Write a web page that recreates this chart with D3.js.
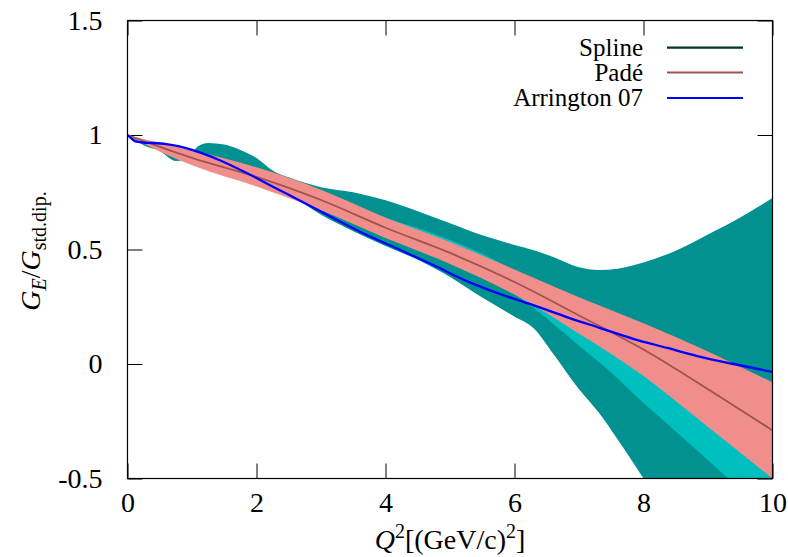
<!DOCTYPE html>
<html>
<head>
<meta charset="utf-8">
<script src="https://cdn.jsdelivr.net/npm/d3@7"></script>
<style>
  html, body { margin: 0; padding: 0; background: #fff; }
  svg { display: block; }
  text { font-family: "Liberation Serif", "DejaVu Serif", serif; fill: #000; }
</style>
</head>
<body>
<svg id="chart" width="788" height="557"></svg>
<script>
// ---------------- data ----------------
const xTicks = [0, 2, 4, 6, 8, 10];
const xTickLabels = ["0", "2", "4", "6", "8", "10"];
const yTicks = [-0.5, 0, 0.5, 1, 1.5];
const yTickLabels = ["-0.5", "0", "0.5", "1", "1.5"];

const legendNames = ["Spline", "Padé", "Arrington 07"];

// Spline band (teal)
const splineQ  = [0, 0.25, 0.5, 0.75, 1.0, 1.1, 1.25, 1.5, 1.75, 2.0, 2.25, 2.5, 3.0, 3.5, 4.0, 4.5, 5.0, 5.5, 6.0, 6.3, 6.6, 7.0, 7.3, 7.6, 8.0, 8.5, 9.0, 9.5, 10];
const splineHi = [1.0, 0.968, 0.955, 0.935, 0.93, 0.952, 0.965, 0.958, 0.935, 0.9, 0.845, 0.815, 0.772, 0.75, 0.715, 0.667, 0.615, 0.562, 0.52, 0.497, 0.467, 0.422, 0.41, 0.416, 0.443, 0.495, 0.566, 0.64, 0.725];
const splineLo = [1.0, 0.955, 0.93, 0.886, 0.895, 0.89, 0.88, 0.86, 0.83, 0.80, 0.77, 0.74, 0.652, 0.58, 0.515, 0.455, 0.38, 0.29, 0.207, 0.155, 0.045, -0.11, -0.21, -0.33, -0.5, -0.72, -0.95, -1.2, -1.45];

// Second (wider) band (light cyan)
const cyanQ  = [0, 0.5, 1, 2, 3, 4, 4.5, 5, 5.5, 6, 6.2, 6.6, 7, 7.33, 8, 8.5, 9, 9.31, 10];
const cyanHi = [1, 0.96, 0.927, 0.854, 0.756, 0.637, 0.594, 0.541, 0.481, 0.41, 0.385, 0.335, 0.287, 0.25, 0.173, 0.115, 0.05, 0.01, -0.085];
const cyanLo = [1, 0.932, 0.872, 0.779, 0.675, 0.554, 0.497, 0.441, 0.375, 0.307, 0.266, 0.175, 0.08, 0.004, -0.17, -0.295, -0.42, -0.5, -0.68];

// Padé fit: central curve and band
const padeQ  = [0, 0.5, 1, 2, 3, 4, 5, 6, 7, 8, 9, 10];
const padeC  = [1, 0.948, 0.90, 0.817, 0.716, 0.595, 0.485, 0.358, 0.212, 0.063, -0.11, -0.29];
const padeHi = [1, 0.965, 0.932, 0.859, 0.761, 0.64, 0.533, 0.413, 0.292, 0.178, 0.055, -0.08];
const padeLo = [1, 0.928, 0.868, 0.775, 0.671, 0.55, 0.437, 0.303, 0.132, -0.052, -0.275, -0.50];

// Arrington 07 parameterisation
const arrQ = [0, 0.06, 0.12, 0.25, 0.4, 0.6, 0.8, 1.0, 1.43, 1.85, 2.27, 2.67, 3.19, 3.71, 4.23, 4.74, 5.26, 5.78, 6.3, 6.81, 7.33, 7.84, 8.37, 8.9, 9.4, 10];
const arrG = [1.0, 0.985, 0.972, 0.967, 0.965, 0.96, 0.95, 0.935, 0.89, 0.834, 0.772, 0.714, 0.637, 0.563, 0.498, 0.432, 0.362, 0.305, 0.256, 0.205, 0.157, 0.11, 0.07, 0.03, 0.0, -0.035];

// ---------------- styles ----------------
const colTeal = "#009190";
const colCyan = "#00bfbf";
const colSalmon = "#f08e8c";
const colPadeLine = "#a0524f";
const colSplineLine = "#00332f";
const colBlue = "#0000ff";
const legendColors = [colSplineLine, colPadeLine, colBlue];

// ---------------- chart ----------------
const svg = d3.select("#chart");
const L = 127.5, R = 772.5, T = 20.5, B = 478.5;
const x = d3.scaleLinear().domain([0, 10]).range([L, R]);
const y = d3.scaleLinear().domain([-0.5, 1.5]).range([B, T]);

svg.append("defs").append("clipPath").attr("id", "plotclip")
  .append("rect").attr("x", L).attr("y", T).attr("width", R - L).attr("height", B - T);

// axes (ticks pointing inward, drawn beneath data)
const fontSize = 28;
function styleAxis(g) {
  g.select(".domain").remove();
  g.selectAll(".tick line").attr("stroke", "#000").attr("stroke-width", 1);
  g.selectAll("text").attr("font-family", "Liberation Serif, DejaVu Serif, serif").attr("font-size", fontSize).attr("fill", "#000");
  g.attr("font-family", null).attr("font-size", null);
}
svg.append("g").attr("transform", `translate(0,${B})`)
  .call(d3.axisBottom(x).tickValues(xTicks).tickFormat((d, i) => xTickLabels[i]).tickSizeInner(-15).tickSizeOuter(0).tickPadding(14))
  .call(styleAxis);
svg.append("g").attr("transform", `translate(0,${T})`)
  .call(d3.axisTop(x).tickValues(xTicks).tickFormat("").tickSizeInner(-15).tickSizeOuter(0))
  .call(styleAxis);
svg.append("g").attr("transform", `translate(${L},0)`)
  .call(d3.axisLeft(y).tickValues(yTicks).tickFormat((d, i) => yTickLabels[i]).tickSizeInner(-15).tickSizeOuter(0).tickPadding(25))
  .call(styleAxis);
svg.append("g").attr("transform", `translate(${R},0)`)
  .call(d3.axisRight(y).tickValues(yTicks).tickFormat("").tickSizeInner(-15).tickSizeOuter(0))
  .call(styleAxis);

const plot = svg.append("g").attr("clip-path", "url(#plotclip)");

function band(qs, lo, hi) {
  return d3.area().curve(d3.curveMonotoneX)
    .x((d, i) => x(qs[i])).y0((d, i) => y(lo[i])).y1((d, i) => y(hi[i]))(qs);
}
function curve(qs, vs) {
  return d3.line().curve(d3.curveMonotoneX)
    .x((d, i) => x(qs[i])).y((d, i) => y(vs[i]))(qs);
}

plot.append("path").attr("d", band(splineQ, splineLo, splineHi)).attr("fill", colTeal);
plot.append("path").attr("d", band(cyanQ, cyanLo, cyanHi)).attr("fill", colCyan);
plot.append("path").attr("d", band(padeQ, padeLo, padeHi)).attr("fill", colSalmon);
plot.append("path").attr("d", curve(padeQ, padeC)).attr("fill", "none")
  .attr("stroke", colPadeLine).attr("stroke-width", 1.8);
plot.append("path").attr("d", curve(arrQ, arrG)).attr("fill", "none")
  .attr("stroke", colBlue).attr("stroke-width", 2.3).attr("stroke-linejoin", "round");

// border
svg.append("rect").attr("x", L).attr("y", T).attr("width", R - L).attr("height", B - T)
  .attr("fill", "none").attr("stroke", "#000").attr("stroke-width", 1.2);

// legend
const legY = [47.7, 72.5, 98];
const leg = svg.append("g");
legendNames.forEach((name, i) => {
  leg.append("text").attr("x", 643).attr("y", legY[i] + 8)
    .attr("text-anchor", "end").attr("font-size", 25).text(name);
  leg.append("line").attr("x1", 667).attr("x2", 743).attr("y1", legY[i]).attr("y2", legY[i])
    .attr("stroke", legendColors[i]).attr("stroke-width", 2.2);
});

// x-axis title: Q^2[(GeV/c)^2]
const xt = svg.append("text").attr("x", 450).attr("y", 549).attr("text-anchor", "middle").attr("font-size", fontSize);
xt.append("tspan").attr("font-style", "italic").text("Q");
xt.append("tspan").attr("font-size", 20).attr("dy", -11).text("2");
xt.append("tspan").attr("dy", 11).text("[(GeV/c)");
xt.append("tspan").attr("font-size", 20).attr("dy", -11).text("2");
xt.append("tspan").attr("dy", 11).text("]");

// y-axis title: G_E / G_std.dip.
const yt = svg.append("text").attr("transform", "translate(40,251) rotate(-90)")
  .attr("text-anchor", "middle").attr("font-size", fontSize);
yt.append("tspan").attr("font-style", "italic").text("G");
yt.append("tspan").attr("font-style", "italic").attr("font-size", 20).attr("dy", 6).text("E");
yt.append("tspan").attr("dy", -6).text("/");
yt.append("tspan").attr("font-style", "italic").text("G");
yt.append("tspan").attr("font-size", 20).attr("dy", 6).text("std.dip.");
</script>
</body>
</html>
